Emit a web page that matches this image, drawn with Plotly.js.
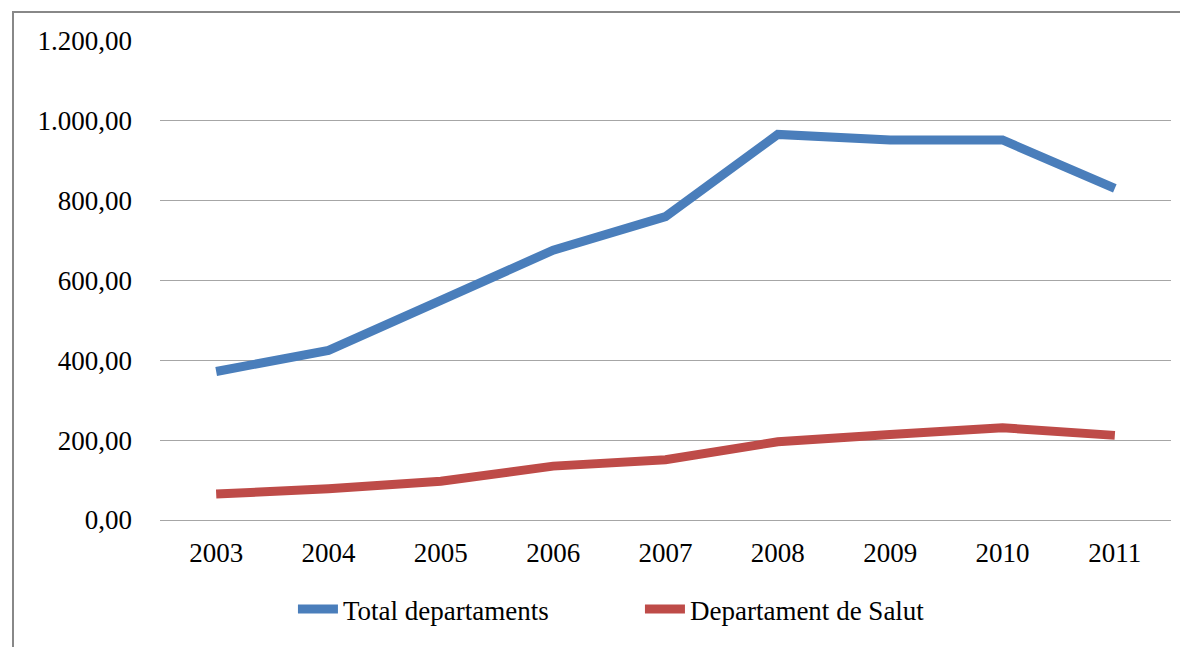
<!DOCTYPE html>
<html>
<head>
<meta charset="utf-8">
<script src="https://cdn.plot.ly/plotly-3.0.1.min.js"></script>
<style>
  html, body { margin: 0; padding: 0; background: #fff; }
  #chart { width: 1180px; height: 647px; }
</style>
</head>
<body>
<div id="chart"></div>
<script>
const years = ["2003", "2004", "2005", "2006", "2007", "2008", "2009", "2010", "2011"];
const totalDepartaments = [372, 425, 550, 676, 760, 966, 952, 952, 831];
const departamentSalut = [65, 78, 97, 135, 151, 196, 214, 231, 212];
const seriesNames = ["Total departaments", "Departament de Salut"];
const seriesColors = ["#4A7EBB", "#BE4B48"];
const yTicks = [0, 200, 400, 600, 800, 1000, 1200];

const font = { family: "Liberation Serif, 'Times New Roman', serif", size: 27, color: "#000" };

const traces = [
  { x: years, y: totalDepartaments, name: seriesNames[0], type: "scatter", mode: "lines",
    line: { color: seriesColors[0], width: 9 } },
  { x: years, y: departamentSalut, name: seriesNames[1], type: "scatter", mode: "lines",
    line: { color: seriesColors[1], width: 9 } }
];

const layout = {
  width: 1180, height: 647,
  margin: { l: 160, r: 9, t: 41, b: 126.5 },
  paper_bgcolor: "#fff", plot_bgcolor: "#fff",
  font: font,
  separators: ",.",
  showlegend: true,
  legend: {
    orientation: "h", x: 0.1315, xanchor: "left", y: -0.187, yanchor: "middle",
    font: font, entrywidth: 292, entrywidthmode: "pixels", itemwidth: 40,
    bgcolor: "rgba(0,0,0,0)"
  },
  xaxis: {
    type: "category", range: [-0.5, years.length - 0.5],
    showgrid: false, zeroline: false, showline: false,
    ticks: "", ticklabelstandoff: 14, tickfont: font, fixedrange: true
  },
  yaxis: {
    range: [0, 1200], tickvals: yTicks, tickformat: ",.2f",
    showgrid: true, gridcolor: "#A6A6A6", gridwidth: 1,
    zeroline: true, zerolinecolor: "#A6A6A6", zerolinewidth: 1,
    showline: false, ticks: "", ticklabelstandoff: 27, tickfont: font, fixedrange: true
  },
  shapes: [
    { type: "rect", xref: "paper", yref: "paper",
      x0: (13 - 160) / 1011, x1: (1190 - 160) / 1011,
      y0: -(660 - 520.5) / 479.5, y1: 1 + (41 - 12) / 479.5,
      line: { color: "#888888", width: 2 }, fillcolor: "rgba(0,0,0,0)", layer: "below" }
  ]
};

Plotly.newPlot("chart", traces, layout, { displayModeBar: false, staticPlot: true });
</script>
</body>
</html>
